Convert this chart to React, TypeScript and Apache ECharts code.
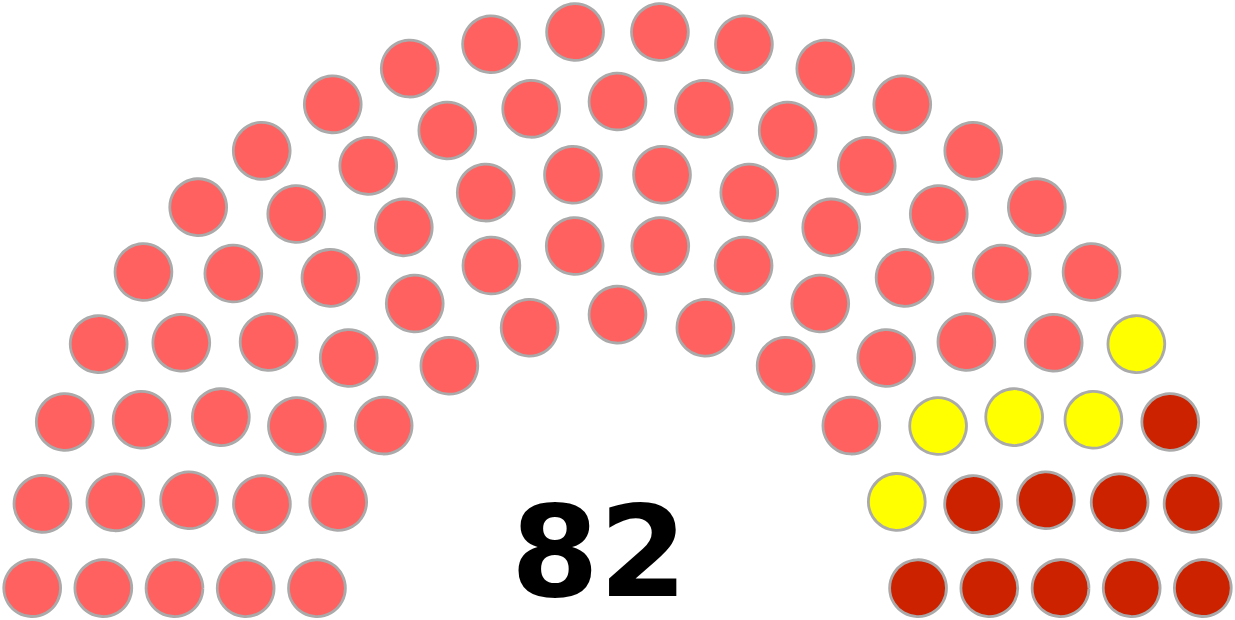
import { useEffect, useRef } from "react";
import * as echarts from "echarts";

// seats per party, left to right
const partyNames = ["Party A", "Party B", "Party C"];
const partySeats = [67, 5, 10];
const partyColors = ["#FF6060", "#FFFF00", "#CC2200"];
// seats in each arc, inner to outer
const seatsPerRow = [11, 14, 16, 19, 22];
const totalLabel = "82";

// layout (units of the classic parliament diagram: centre at 1.75, outer radius 1.65)
const ROWS = seatsPerRow.length;
const SPOT = 0.4 / ROWS;
const PX = 355.15;

function seatPositions() {
    const pos: { angle: number; x: number; y: number }[] = [];
    seatsPerRow.forEach((n, k) => {
        const i = k + 1;
        const R = (3 * ROWS + 4 * i - 2) / (4 * ROWS);
        const start = Math.sin(SPOT / R);
        for (let j = 0; j < n; j++) {
            const angle = n === 1 ? Math.PI / 2 : (j * (Math.PI - 2 * start)) / (n - 1) + start;
            pos.push({ angle, x: 1.75 + R * Math.cos(angle), y: R * Math.sin(angle) });
        }
    });
    pos.sort((a, b) => b.angle - a.angle);
    return pos;
}

export default function App() {
    const chartRef = useRef<HTMLDivElement>(null);

    useEffect(() => {
        if (!chartRef.current) return;
        const chart = echarts.init(chartRef.current, null, { renderer: "svg" });

        const pos = seatPositions();
        let idx = 0;
        const series = partySeats.map((count, p) => {
            const data = pos.slice(idx, idx + count).map((s) => [s.x, s.y]);
            idx += count;
            return {
                name: partyNames[p],
                type: "scatter",
                data,
                symbol: "circle",
                symbolSize: SPOT * 2 * PX,
                itemStyle: {
                    color: partyColors[p],
                    borderColor: "#AAAAAA",
                    borderWidth: 2.8,
                    opacity: 1,
                },
                emphasis: { disabled: true },
            };
        });

        chart.setOption({
            animation: false,
            grid: { left: 0, right: 0, top: 0, bottom: 0 },
            xAxis: {
                type: "value",
                min: 1.75 - 617.5 / PX,
                max: 1.75 + 617.5 / PX,
                show: false,
            },
            yAxis: {
                type: "value",
                min: -3.5 / PX,
                max: 616.5 / PX,
                show: false,
            },
            graphic: [
                {
                    type: "text",
                    x: 599,
                    y: 552,
                    style: {
                        text: totalLabel,
                        font: "bold 127px 'DejaVu Sans'",
                        fill: "#000000",
                        textAlign: "center",
                        textVerticalAlign: "middle",
                    },
                },
            ],
            series,
        });

        return () => {
            chart.dispose();
        };
    }, []);

    return (
        <div
            ref={chartRef}
            style={{ position: "absolute", left: 0, top: 0, width: 1235, height: 620, background: "#ffffff" }}
        />
    );
}
